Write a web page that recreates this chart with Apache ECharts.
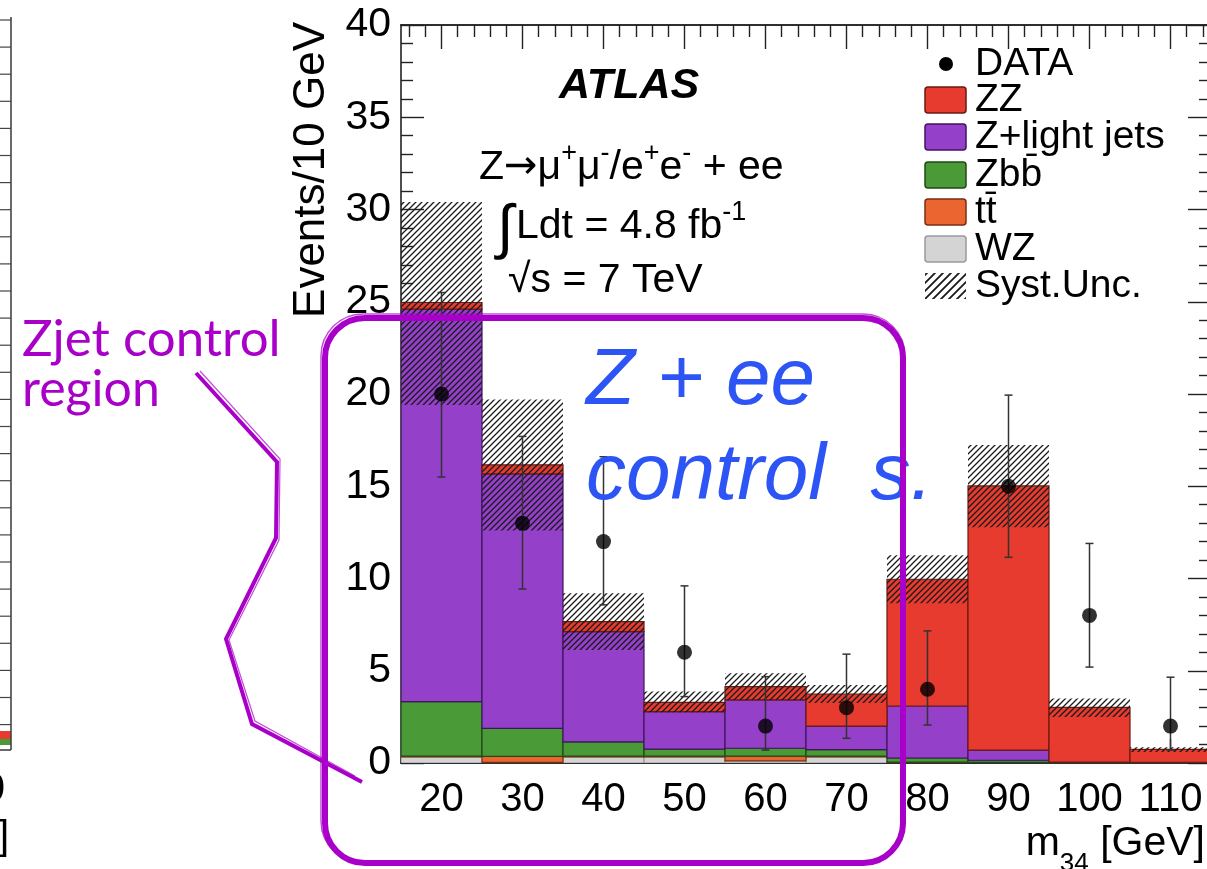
<!DOCTYPE html>
<html><head><meta charset="utf-8">
<script src="https://cdn.jsdelivr.net/npm/echarts@6/dist/echarts.min.js"></script>
<style>html,body{margin:0;padding:0;background:#fff}#c{width:1207px;height:869px}</style>
</head><body><div id="c"></div>
<script>
// ---- data ----
const binLow    = [15, 25, 35, 45, 55, 65, 75, 85, 95, 105];
const binHigh   = [25, 35, 45, 55, 65, 75, 85, 95, 105, 115];
const binCenter = [20, 30, 40, 50, 60, 70, 80, 90, 100, 110];
const wz     = [0.33, 0.03, 0.33, 0.33, 0.12, 0.33, 0.03, 0.02, 0.02, 0.02];
const ttbar  = [0.05, 0.33, 0.05, 0.05, 0.25, 0.05, 0.02, 0.01, 0.00, 0.00];
const zbb    = [2.95, 1.52, 0.77, 0.37, 0.43, 0.34, 0.22, 0.12, 0.03, 0.02];
const zlight = [21.27, 13.79, 5.97, 2.03, 2.62, 1.28, 2.82, 0.55, 0.00, 0.00];
const zz     = [0.36, 0.49, 0.54, 0.51, 0.72, 1.74, 6.87, 14.32, 2.97, 0.70];
const systLow  = [19.4, 12.6, 6.13, 2.75, 3.42, 3.25, 8.66, 12.78, 2.50, 0.60];
const systHigh = [30.4, 19.7, 9.20, 3.87, 4.86, 4.23, 11.26, 17.23, 3.50, 0.85];
const dataVal     = [20, 13, 12, 6, 2, 3, 4, 15, 8, 2];
const dataErrLow  = [15.5, 9.43, 8.57, 3.6, 0.7, 1.34, 2.06, 11.15, 5.2, 0.7];
const dataErrHigh = [25.5, 17.7, 16.6, 9.6, 4.68, 5.9, 7.16, 19.94, 11.9, 4.65];
const xTickLabels = [20, 30, 40, 50, 60, 70, 80, 90, 100, 110];
const yTickLabels = [0, 5, 10, 15, 20, 25, 30, 35, 40];

// ---- helpers ----
const FONT = '"Liberation Sans", Arial, Helvetica, sans-serif';
const HAND = 'Lato, "Open Sans", sans-serif';
const xMinorTicks = [];
for (let v = 16; v < 115; v += 2) if (v % 10 !== 0) xMinorTicks.push(v);

function hatchCanvas(sp, lw, color) {
  const c = document.createElement('canvas');
  c.width = sp; c.height = sp;
  const g = c.getContext('2d');
  g.strokeStyle = color; g.lineWidth = lw; g.lineCap = 'square';
  g.beginPath();
  g.moveTo(-1, sp + 1); g.lineTo(sp + 1, -1);
  g.moveTo(-2, 2); g.lineTo(2, -2);
  g.moveTo(sp - 2, sp + 2); g.lineTo(sp + 2, sp - 2);
  g.stroke();
  return c;
}
const hatchFill = { image: hatchCanvas(6, 1.3, '#1a1a1a'), repeat: 'repeat' };
const hatchFillLegend = { image: hatchCanvas(8, 1.8, '#1a1a1a'), repeat: 'repeat' };

// cumulative bases
const base0 = binLow.map(() => 0);
const base1 = base0.map((b, i) => b + wz[i]);
const base2 = base1.map((b, i) => b + ttbar[i]);
const base3 = base2.map((b, i) => b + zbb[i]);
const base4 = base3.map((b, i) => b + zlight[i]);

function stackSeries(name, values, base, fill, stroke, z) {
  return {
    type: 'custom', name, z, silent: true, clip: true,
    data: values.map((v, i) => [binLow[i], binHigh[i], base[i], base[i] + v]),
    encode: { x: [0, 1], y: [2, 3] },
    renderItem: (params, api) => {
      const b = api.value(2), t = api.value(3);
      if (t - b <= 0.001) return null;
      const p1 = api.coord([api.value(0), t]);
      const p2 = api.coord([api.value(1), b]);
      return { type: 'rect', shape: { x: p1[0], y: p1[1], width: p2[0] - p1[0], height: p2[1] - p1[1] },
               style: { fill, stroke, lineWidth: 1.2 } };
    }
  };
}

const colors = {
  zz: '#e63b2e', zzS: '#6b1a12',
  zl: '#9440c8', zlS: '#3f1560',
  zbb: '#4a9a38', zbbS: '#1f4a16',
  tt: '#ea6530', ttS: '#7a3010',
  wz: '#d4d4d4', wzS: '#9a9a9a',
  mag: '#a800c8', blue: '#2d55f5'
};

const chart = echarts.init(document.getElementById('c'), null, { renderer: 'canvas' });

const axisLineStyle = { color: '#222', width: 1.6 };
const tickStyle = { color: '#222', width: 1.4 };

function xAx(position, custom, len, labels, extra) {
  return Object.assign({
    type: 'value', min: 15, max: 115, position,
    axisLine: { show: true, onZero: false, lineStyle: axisLineStyle },
    axisTick: { show: true, inside: true, length: len, customValues: custom, lineStyle: tickStyle },
    axisLabel: labels ? { show: true, customValues: xTickLabels, fontFamily: FONT, fontSize: 40, color: '#000', margin: 17 } : { show: false },
    splitLine: { show: false }
  }, extra || {});
}
function yAx(position, labels, extra) {
  return Object.assign({
    type: 'value', min: 0, max: 40, interval: 5, position,
    axisLine: { show: true, onZero: false, lineStyle: axisLineStyle },
    axisTick: { show: true, inside: true, length: 23, lineStyle: tickStyle },
    minorTick: { show: true, splitNumber: 5, length: 12, lineStyle: tickStyle },
    axisLabel: labels ? { show: true, fontFamily: FONT, fontSize: 41, color: '#000', margin: 10,
                          padding: [8, 0, 0, 0], customValues: yTickLabels } : { show: false },
    splitLine: { show: false }, minorSplitLine: { show: false }
  }, extra || {});
}

const option = {
  backgroundColor: '#fff',
  animation: false,
  grid: { left: 401, right: -4, top: 25, bottom: 106, containLabel: false, outerBoundsMode: 'none' },
  xAxis: [
    xAx('bottom', xTickLabels, 24, true, {
      name: '{a|m}{s|34}{a| [GeV]}', nameLocation: 'end', nameGap: -6,
      nameTextStyle: { align: 'right', verticalAlign: 'top', padding: [60, 0, 0, 0],
        rich: {
          a: { fontFamily: FONT, fontSize: 41, color: '#000', lineHeight: 44, verticalAlign: 'top' },
          s: { fontFamily: FONT, fontSize: 26, color: '#000', lineHeight: 26, padding: [28, 0, 0, 0], verticalAlign: 'top' }
        } }
    }),
    xAx('bottom', xMinorTicks, 12, false),
    xAx('top', xTickLabels, 24, false),
    xAx('top', xMinorTicks, 12, false)
  ],
  yAxis: [
    yAx('left', true, {
      name: 'Events/10 GeV', nameLocation: 'end', nameRotate: 90, nameGap: 3,
      nameTextStyle: { fontFamily: FONT, fontSize: 44, color: '#000', align: 'right', verticalAlign: 'bottom', padding: [0, 0, 67, 0] }
    }),
    yAx('right', false)
  ],
  series: [
    stackSeries('WZ', wz, base0, colors.wz, colors.wzS, 2),
    stackSeries('tt\u0304', ttbar, base1, colors.tt, colors.ttS, 3),
    stackSeries('Zbb\u0304', zbb, base2, colors.zbb, colors.zbbS, 4),
    stackSeries('Z+light jets', zlight, base3, colors.zl, colors.zlS, 5),
    stackSeries('ZZ', zz, base4, colors.zz, colors.zzS, 6),
    {
      type: 'custom', name: 'Syst.Unc.', z: 7, silent: true, clip: true,
      data: systLow.map((v, i) => [binLow[i], binHigh[i], v, systHigh[i]]),
      encode: { x: [0, 1], y: [2, 3] },
      renderItem: (params, api) => {
        const p1 = api.coord([api.value(0), api.value(3)]);
        const p2 = api.coord([api.value(1), api.value(2)]);
        return { type: 'rect', shape: { x: p1[0], y: p1[1], width: p2[0] - p1[0], height: p2[1] - p1[1] },
                 style: { fill: hatchFill, stroke: null } };
      }
    },
    {
      type: 'custom', name: 'DATA errors', z: 8, silent: true,
      data: dataVal.map((v, i) => [binCenter[i], dataErrLow[i], dataErrHigh[i]]),
      encode: { x: 0, y: [1, 2] },
      renderItem: (params, api) => {
        const lo = api.coord([api.value(0), api.value(1)]);
        const hi = api.coord([api.value(0), api.value(2)]);
        const cw = 4;
        const st = { stroke: '#333', lineWidth: 1.5 };
        return { type: 'group', children: [
          { type: 'line', shape: { x1: lo[0], y1: lo[1], x2: hi[0], y2: hi[1] }, style: st },
          { type: 'line', shape: { x1: lo[0] - cw, y1: lo[1], x2: lo[0] + cw, y2: lo[1] }, style: st },
          { type: 'line', shape: { x1: hi[0] - cw, y1: hi[1], x2: hi[0] + cw, y2: hi[1] }, style: st }
        ] };
      }
    },
    {
      type: 'scatter', name: 'DATA', z: 9, symbol: 'circle', symbolSize: 15,
      itemStyle: { color: '#000' },
      data: dataVal.map((v, i) => [binCenter[i], v])
    }
  ],
  graphic: []
};

// ---- legend (drawn) ----
const legX = 925, legTX = 975;
const legRows = [
  { name: 'DATA', y: 64, type: 'dot' },
  { name: 'ZZ', y: 100, fill: colors.zz, stroke: colors.zzS },
  { name: 'Z+light jets', y: 137, fill: colors.zl, stroke: colors.zlS },
  { name: 'Zbb\u0304', y: 175, fill: colors.zbb, stroke: colors.zbbS },
  { name: 'tt\u0304', y: 212, fill: colors.tt, stroke: colors.ttS },
  { name: 'WZ', y: 249, fill: colors.wz, stroke: colors.wzS },
  { name: 'Syst.Unc.', y: 286, type: 'hatch' }
];
const g = option.graphic;
legRows.forEach(r => {
  if (r.type === 'dot') {
    g.push({ type: 'circle', shape: { cx: legX + 21, cy: r.y, r: 7 }, style: { fill: '#000' }, z: 100 });
  } else if (r.type === 'hatch') {
    g.push({ type: 'rect', shape: { x: legX, y: r.y - 13, width: 41, height: 26 }, style: { fill: hatchFillLegend }, z: 100 });
  } else {
    g.push({ type: 'rect', shape: { x: legX, y: r.y - 13, width: 41, height: 26, r: 3 },
             style: { fill: r.fill, stroke: r.stroke, lineWidth: 1.5 }, z: 100 });
  }
  g.push({ type: 'text', x: legTX, y: r.y, z: 100,
           style: { text: r.name, fontFamily: FONT, fontSize: 39, fill: '#000', align: 'left', verticalAlign: 'middle' } });
});

// ---- ATLAS labels ----
const supRich = {
  n: { fontFamily: FONT, fontSize: 41, color: '#000', lineHeight: 44, verticalAlign: 'bottom' },
  arr: { fontFamily: '"DejaVu Sans", sans-serif', fontSize: 40, color: '#000', lineHeight: 44, verticalAlign: 'bottom' },
  sup: { fontFamily: FONT, fontSize: 27, color: '#000', lineHeight: 27, padding: [0, 0, 21, 0], verticalAlign: 'bottom' }
};
g.push({ type: 'text', x: 559, y: 86, z: 100,
  style: { text: 'ATLAS', fontFamily: FONT, fontSize: 43, fontWeight: 'bold', fontStyle: 'italic', fill: '#000', align: 'left', verticalAlign: 'middle' } });
g.push({ type: 'text', x: 479, y: 166, z: 100,
  style: { text: '{n|Z}{arr|\u2192}{n|\u03bc}{sup|+}{n|\u03bc}{sup|-}{n|/e}{sup|+}{n|e}{sup|-}{n| + ee}', rich: supRich,
           align: 'left', verticalAlign: 'middle' } });
g.push({ type: 'text', x: 497, y: 230, z: 100,
  style: { text: '\u222b', fontFamily: FONT, fontSize: 60, fill: '#000', align: 'left', verticalAlign: 'middle' } });
g.push({ type: 'text', x: 516, y: 225, z: 100,
  style: { text: '{n|Ldt = 4.8 fb}{sup|-1}', rich: supRich, align: 'left', verticalAlign: 'middle' } });
g.push({ type: 'text', x: 508, y: 281, z: 100,
  style: { text: '\u221as = 7 TeV', fontFamily: FONT, fontSize: 41, fill: '#000', align: 'left', verticalAlign: 'middle' } });

// ---- hand-drawn annotations ----
g.push({ type: 'text', x: 22, y: 340, z: 100,
  style: { text: 'Zjet control', fontFamily: HAND, fontSize: 51, fill: colors.mag, align: 'left', verticalAlign: 'middle' } });
g.push({ type: 'text', x: 22, y: 390, z: 100,
  style: { text: 'region', fontFamily: HAND, fontSize: 50, fill: colors.mag, align: 'left', verticalAlign: 'middle' } });
g.push({ type: 'text', x: 586, y: 382, z: 100,
  style: { text: 'Z + ee', fontFamily: FONT, fontSize: 80, fontStyle: 'italic', fill: colors.blue, align: 'left', verticalAlign: 'middle' } });
g.push({ type: 'text', x: 586, y: 477, z: 100,
  style: { text: 'control  s.', fontFamily: FONT, fontSize: 80, fontStyle: 'italic', fill: colors.blue, align: 'left', verticalAlign: 'middle' } });
g.push({ type: 'rect', z: 110, shape: { x: 325, y: 318, width: 578, height: 545, r: 40 },
  style: { fill: null, stroke: colors.mag, lineWidth: 6 } });
g.push({ type: 'rect', z: 110, shape: { x: 321, y: 314, width: 584, height: 549, r: 42 },
  style: { fill: null, stroke: colors.mag, lineWidth: 1.5, opacity: 0.7 } });
g.push({ type: 'polyline', z: 110, shape: { points: [[196, 373], [277, 462], [276, 538], [226, 639], [252, 724], [362, 782]] },
  style: { fill: null, stroke: colors.mag, lineWidth: 4, lineJoin: 'miter' } });
g.push({ type: 'polyline', z: 110, shape: { points: [[200, 371], [280, 459], [279, 540], [229, 640], [255, 721], [355, 776]] },
  style: { fill: null, stroke: colors.mag, lineWidth: 1.2, opacity: 0.7 } });

// ---- fragment of the neighbouring plot at the left edge ----
g.push({ type: 'line', z: 50, shape: { x1: 11, y1: 17, x2: 11, y2: 750 }, style: { stroke: '#444', lineWidth: 1.6 } });
g.push({ type: 'line', z: 50, shape: { x1: 0, y1: 750, x2: 11, y2: 750 }, style: { stroke: '#444', lineWidth: 1.6 } });
for (let k = 0; k < 27; k++) {
  const yy = 20 + k * 27.1;
  g.push({ type: 'line', z: 50, shape: { x1: 0, y1: yy, x2: 11, y2: yy }, style: { stroke: '#444', lineWidth: 1.2 } });
}
g.push({ type: 'rect', z: 49, shape: { x: 0, y: 731, width: 11, height: 8 }, style: { fill: colors.zz } });
g.push({ type: 'rect', z: 49, shape: { x: 0, y: 739, width: 11, height: 6 }, style: { fill: colors.zbb } });
g.push({ type: 'text', x: 5, y: 790, z: 50, style: { text: '0', fontFamily: FONT, fontSize: 40, fill: '#000', align: 'right', verticalAlign: 'middle' } });
g.push({ type: 'text', x: -2, y: 838, z: 50, style: { text: ']', fontFamily: FONT, fontSize: 40, fill: '#000', align: 'left', verticalAlign: 'middle' } });

chart.setOption(option);
</script></body></html>
